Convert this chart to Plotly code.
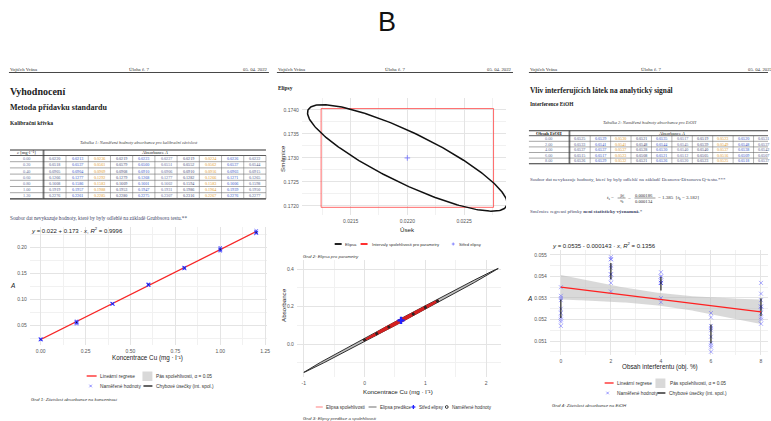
import numpy as np
import plotly.graph_objects as go

W, H = 771, 421
SERIF = "Liberation Serif, DejaVu Serif, serif"
SANS = "Liberation Sans, Arial, sans-serif"

# ---------------- data ----------------
# calibration: Cu concentration (mg/l) and ten absorbance readings per level
conc_cu = [0.00, 0.20, 0.40, 0.60, 0.80, 1.00, 1.20]
abs_cal = [
    [0.0220, 0.0213, 0.0236, 0.0219, 0.0223, 0.0227, 0.0219, 0.0224, 0.0226, 0.0222],
    [0.0518, 0.0537, 0.0561, 0.0579, 0.0560, 0.0551, 0.0552, 0.0562, 0.0537, 0.0544],
    [0.0905, 0.0904, 0.0909, 0.0908, 0.0910, 0.0906, 0.0910, 0.0916, 0.0903, 0.0915],
    [0.1266, 0.1277, 0.1292, 0.1279, 0.1268, 0.1277, 0.1282, 0.1266, 0.1271, 0.1265],
    [0.1608, 0.1586, 0.1583, 0.1609, 0.1601, 0.1602, 0.1594, 0.1583, 0.1606, 0.1598],
    [0.1919, 0.1957, 0.1988, 0.1953, 0.1947, 0.1931, 0.1986, 0.1964, 0.1939, 0.1950],
    [0.2276, 0.2261, 0.2285, 0.2280, 0.2275, 0.2307, 0.2316, 0.2267, 0.2276, 0.2277],
]
cal_intercept, cal_slope, cal_r2 = 0.022, 0.173, 0.9996
cal_band_mid, cal_band_end = 0.0007, 0.0013

cal_xticks = [0.00, 0.25, 0.50, 0.75, 1.00, 1.25]
cal_xlabels = ["0.00", "0.25", "0.50", "0.75", "1.00", "1.25"]
cal_yticks = [0.05, 0.10, 0.15, 0.20]
cal_ylabels = ["0.05", "0.10", "0.15", "0.20"]

# joint confidence region of the regression parameters
par_intercept, par_slope = 0.0220, 0.1730
par_intercept_ci = [0.02124, 0.02276]
par_slope_ci = [0.17197, 0.17403]
ell_half_intercept, ell_half_slope, ell_rho = 0.00088, 0.00111, -0.85

par_xticks = [0.0215, 0.0220, 0.0225]
par_xlabels = ["0.0215", "0.0220", "0.0225"]
par_yticks = [0.1720, 0.1725, 0.1730, 0.1735, 0.1740]
par_ylabels = ["0.1720", "0.1725", "0.1730", "0.1735", "0.1740"]

# prediction / confidence ellipses in the concentration-absorbance plane
pred_half_x, pred_half_y = 1.6, 0.010
conf_half_x, conf_half_y = 0.62, 0.008
pe_xticks = [-1, 0, 1, 2]
pe_xlabels = ["-1", "0", "1", "2"]
pe_yticks = [0.0, 0.2, 0.4]
pe_ylabels = ["0.0", "0.2", "0.4"]

# EtOH interference: content (vol. %) and ten absorbance readings per level
etoh_pct = [0, 2, 4, 6, 8]
abs_etoh = [
    [0.0525, 0.0529, 0.0530, 0.0521, 0.0535, 0.0517, 0.0519, 0.0523, 0.0520, 0.0531],
    [0.0533, 0.0541, 0.0541, 0.0548, 0.0544, 0.0545, 0.0539, 0.0549, 0.0548, 0.0537],
    [0.0537, 0.0537, 0.0537, 0.0528, 0.0530, 0.0540, 0.0540, 0.0537, 0.0538, 0.0542],
    [0.0515, 0.0517, 0.0523, 0.0508, 0.0521, 0.0512, 0.0505, 0.0516, 0.0509, 0.0507],
    [0.0526, 0.0529, 0.0532, 0.0521, 0.0526, 0.0520, 0.0523, 0.0525, 0.0518, 0.0537],
]
etoh_intercept, etoh_slope, etoh_r2 = 0.0535, -0.000143, 0.1356
etoh_band_mid, etoh_band_end = 0.00030, 0.00057
et_xticks = [0, 2, 4, 6, 8]
et_xlabels = ["0", "2", "4", "6", "8"]
et_yticks = [0.051, 0.052, 0.053, 0.054, 0.055]
et_ylabels = ["0.051", "0.052", "0.053", "0.054", "0.055"]

T_CRIT = 2.262  # Student t(0.975, 9)

# ---------------- helpers ----------------
fig = go.Figure()
ann, shapes = [], []
layout_axes = {}

CELL_COLORS = ["#4a5a8c", "#2f55c8", "#e0982a", "#3d4a78", "#2f55c8",
               "#5b6a9a", "#3d4a78", "#e0982a", "#2f55c8", "#4a5a8c"]


def fx(x):
    return x / W


def fy(y):
    return 1 - y / H


def txt(x, y, s, size=5, color="#222", family=SERIF, xa="left", ya="middle", angle=0):
    ann.append(dict(x=fx(x), y=fy(y), xref="paper", yref="paper", text=s,
                    showarrow=False, font=dict(size=size, color=color, family=family),
                    xanchor=xa, yanchor=ya, textangle=angle, borderpad=0))


def seg(x0, y0, x1, y1, w=0.8, color="#333"):
    shapes.append(dict(type="line", xref="paper", yref="paper",
                       x0=fx(x0), y0=fy(y0), x1=fx(x1), y1=fy(y1),
                       line=dict(width=w, color=color)))


def box(x0, y0, x1, y1, fill):
    shapes.append(dict(type="rect", xref="paper", yref="paper",
                       x0=fx(x0), y0=fy(y1), x1=fx(x1), y1=fy(y0),
                       line=dict(width=0), fillcolor=fill))


def cross_x(cx, cy, r, color, w=0.8):
    seg(cx - r, cy - r, cx + r, cy + r, w, color)
    seg(cx - r, cy + r, cx + r, cy - r, w, color)


def cross_plus(cx, cy, r, color, w=0.8):
    seg(cx - r, cy, cx + r, cy, w, color)
    seg(cx, cy - r, cx, cy + r, w, color)


def circ(cx, cy, r, color, w=0.8):
    shapes.append(dict(type="circle", xref="paper", yref="paper",
                       x0=fx(cx - r), x1=fx(cx + r), y0=fy(cy + r), y1=fy(cy - r),
                       line=dict(width=w, color=color)))


def axes(i, xpx, ypx, xr, yr, xt, xl, yt, yl, xminor, yminor):
    xn = "xaxis" if i == 1 else f"xaxis{i}"
    yn = "yaxis" if i == 1 else f"yaxis{i}"
    common = dict(showgrid=True, gridcolor="#e4e4e4", gridwidth=0.7, zeroline=False,
                  showline=False, ticks="", fixedrange=True, ticklabelstandoff=2,
                  tickfont=dict(size=5, color="#555", family=SANS))
    layout_axes[xn] = dict(domain=[fx(xpx[0]), min(fx(xpx[1]), 1.0)], range=xr,
                           anchor="y" if i == 1 else f"y{i}", tickvals=xt, ticktext=xl,
                           minor=dict(tickvals=xminor, showgrid=True,
                                      gridcolor="#f1f1f1", gridwidth=0.5), **common)
    layout_axes[yn] = dict(domain=[fy(ypx[1]), fy(ypx[0])], range=yr,
                           anchor="x" if i == 1 else f"x{i}", tickvals=yt, ticktext=yl,
                           minor=dict(tickvals=yminor, showgrid=True,
                                      gridcolor="#f1f1f1", gridwidth=0.5), **common)


def ref(i):
    return ("x", "y") if i == 1 else (f"x{i}", f"y{i}")


def band(xs, xc, half, mid, end):
    return np.sqrt(mid ** 2 + (end ** 2 - mid ** 2) * ((xs - xc) / half) ** 2)


def table(x0, c0w, cw, y_top, hh, rh, labels, values, head0, head1, clip):
    nr = len(values)
    nc = len(values[0])
    yhb = y_top + hh
    yb = yhb + nr * rh
    xe = min(x0 + c0w + nc * cw, clip)
    seg(x0, y_top, xe, y_top, 1.1, "#333")
    seg(x0, yhb, xe, yhb, 0.8, "#333")
    seg(x0, yb, xe, yb, 1.1, "#333")
    for r in range(1, nr):
        seg(x0, yhb + r * rh, xe, yhb + r * rh, 0.6, "#6a6a6a")
    seg(x0 + c0w, y_top, x0 + c0w, yb, 0.9, "#333")
    seg(x0 + c0w - 1, y_top, x0 + c0w - 1, yb, 0.5, "#555")
    for c in range(1, nc + 1):
        xv = x0 + c0w + c * cw
        if xv <= clip:
            seg(xv, yhb, xv, yb, 0.5, "#666")
    txt(x0 + c0w / 2, y_top + hh / 2, head0, 4.6, "#222", xa="center")
    txt(x0 + c0w + nc * cw / 2, y_top + hh / 2, head1, 4.6, "#222", xa="center")
    for r in range(nr):
        yc = yhb + (r + 0.5) * rh
        txt(x0 + c0w / 2, yc, labels[r], 4.3, "#6b79a6", xa="center")
        for c in range(nc):
            txt(x0 + c0w + (c + 0.5) * cw, yc, f"{values[r][c]:.4f}", 4.1,
                CELL_COLORS[c % len(CELL_COLORS)], xa="center")


# ---------------- page headers ----------------
txt(389, 22, "B", 27, "#111", "Liberation Sans Narrow, Liberation Sans, sans-serif", xa="center")
for left, mid, right_x, right_anchor, line_end in [(9, 140, 270, "right", 270),
                                                   (278, 397, 515, "right", 515),
                                                   (531, 654, 750, "left", 771)]:
    txt(left, 69.5, "Vojtěch Vrána", 4.8, "#333")
    txt(mid, 69.5, "Úloha č. 7", 4.8, "#333", xa="center")
    txt(right_x, 69.5, "05. 04. 2022", 4.8, "#333", xa=right_anchor)
    seg(left, 72.5, line_end, 72.5, 0.9, "#333")

# ---------------- page 1 ----------------
txt(9, 91, "<b>Vyhodnocení</b>", 10, "#222")
txt(9, 108, "<b>Metoda přídavku standardu</b>", 8, "#222")
txt(9, 123, "<b>Kalibrační křivka</b>", 5.6, "#222")
txt(140, 142, "<i>Tabulka 1: Naměřené hodnoty absorbance pro kalibrační závislost</i>", 4.4, "#444", xa="center")
table(10, 34, 22.3, 150, 5.5, 6.2, [f"{c:.2f}" for c in conc_cu], abs_cal,
      "<i>c</i> [mg·l⁻¹]", "Absorbance <i>A</i>", 270)
txt(9, 218, "Soubor dat nevykazuje hodnoty, které by byly odlehlé na základě Grubbsova testu.**", 5.2, "#3d4466")

# chart 1: calibration line
axes(1, (30, 268), (227, 345), [-0.06, 1.26], [0.01154, 0.23846],
     cal_xticks, cal_xlabels, cal_yticks, cal_ylabels,
     [-0.125 + 0.25 * k for k in range(7)], [0.025 + 0.05 * k for k in range(5)])
xr, yr = ref(1)
xs = np.linspace(min(conc_cu), max(conc_cu), 100)
ys = cal_intercept + cal_slope * xs
hw = band(xs, np.mean(conc_cu), (max(conc_cu) - min(conc_cu)) / 2, cal_band_mid, cal_band_end)
fig.add_trace(go.Scatter(x=np.r_[xs, xs[::-1]], y=np.r_[ys + hw, (ys - hw)[::-1]], fill="toself",
                         fillcolor="rgba(160,160,160,0.45)", line=dict(width=0), mode="lines",
                         xaxis=xr, yaxis=yr, hoverinfo="skip"))
fig.add_trace(go.Scatter(x=xs, y=ys, mode="lines", line=dict(color="#ff2020", width=1.2),
                         xaxis=xr, yaxis=yr))
cal_means = [np.mean(v) for v in abs_cal]
cal_err = [T_CRIT * np.std(v, ddof=1) / np.sqrt(len(v)) for v in abs_cal]
fig.add_trace(go.Scatter(x=np.repeat(conc_cu, len(abs_cal[0])), y=np.ravel(abs_cal), mode="markers",
                         marker=dict(symbol="x-thin", size=3, color="rgba(60,60,255,0.6)",
                                     line=dict(width=1, color="rgba(60,60,255,0.6)")),
                         xaxis=xr, yaxis=yr))
fig.add_trace(go.Scatter(x=conc_cu, y=cal_means, mode="markers", marker=dict(size=1, opacity=0),
                         error_y=dict(type="data", array=cal_err, color="#111", thickness=1, width=0),
                         xaxis=xr, yaxis=yr))
txt(30, 230, f"<i>y</i> = {cal_intercept:.3f} + {cal_slope:.3f} · <i>x</i>, <i>R</i><sup>2</sup> = {cal_r2:.4f}", 6, "#222", SANS)
txt(13, 285, "<i>A</i>", 6.5, "#222", SANS, xa="center")
txt(148, 358, "Koncentrace Cu (mg · l⁻¹)", 6.3, "#222", SANS, xa="center")
seg(87, 376, 97, 376, 1.3, "#ff2020")
txt(99, 376, "Lineární regrese", 4.8, "#333", SANS)
box(143, 371.5, 153, 381, "#d9d9d9")
txt(156, 376, "Pás spolehlivosti, α = 0.05", 4.8, "#333", SANS)
cross_x(91, 386, 1.3, "rgba(60,60,255,0.7)")
txt(99, 386, "Naměřené hodnoty", 4.8, "#333", SANS)
seg(144, 386, 153, 386, 1.3, "#111")
txt(156, 386, "Chybové úsečky (int. spol.)", 4.8, "#333", SANS)
txt(30, 399, "<i>Graf 1: Závislost absorbance na koncentraci</i>", 4.4, "#333", SANS)

# ---------------- page 2 ----------------
txt(278, 88, "<b>Elipsy</b>", 5.4, "#222")
axes(2, (303, 508), (98, 215), [0.02107, 0.02287], [0.17181, 0.17425],
     par_xticks, par_xlabels, par_yticks, par_ylabels,
     [0.02125, 0.02175, 0.02225, 0.02275], [0.17175, 0.17225, 0.17275, 0.17325, 0.17375, 0.17425])
xr, yr = ref(2)
t = np.linspace(0, 2 * np.pi, 240)
ex = par_intercept + ell_half_intercept * np.cos(t)
ey = par_slope + ell_half_slope * (ell_rho * np.cos(t) + np.sqrt(1 - ell_rho ** 2) * np.sin(t))
rx = [par_intercept_ci[0], par_intercept_ci[1], par_intercept_ci[1], par_intercept_ci[0], par_intercept_ci[0]]
ry = [par_slope_ci[0], par_slope_ci[0], par_slope_ci[1], par_slope_ci[1], par_slope_ci[0]]
fig.add_trace(go.Scatter(x=rx, y=ry, mode="lines", line=dict(color="rgba(255,70,70,0.8)", width=1),
                         xaxis=xr, yaxis=yr))
fig.add_trace(go.Scatter(x=ex, y=ey, mode="lines", line=dict(color="#111", width=1.5),
                         xaxis=xr, yaxis=yr))
fig.add_trace(go.Scatter(x=[par_intercept], y=[par_slope], mode="markers",
                         marker=dict(symbol="cross-thin", size=4, color="#7070ff",
                                     line=dict(width=0.8, color="#7070ff")),
                         xaxis=xr, yaxis=yr))
txt(284, 158, "Směrnice", 6.2, "#222", SANS, xa="center", angle=-90)
txt(409, 229, "Úsek", 6.2, "#222", SANS, xa="center")
seg(336, 244, 343, 244, 2, "#222")
txt(345, 244, "Elipsa", 4.2, "#333", SANS)
seg(362, 244, 369, 244, 2, "#ff3030")
txt(372, 244, "Intervaly spolehlivosti pro parametry", 4.2, "#333", SANS)
cross_plus(455, 244, 1.5, "#7070ff")
txt(460, 244, "Střed elipsy", 4.2, "#333", SANS)
txt(303, 256, "<i>Graf 2: Elipsa pro parametry</i>", 4.4, "#333", SANS)

# chart 3: prediction and confidence ellipses
axes(3, (298, 503), (260, 377), [-1.115, 2.246], [-0.176, 0.448],
     pe_xticks, pe_xlabels, pe_yticks, pe_ylabels,
     [-0.5, 0.5, 1.5], [-0.1, 0.1, 0.3])
xr, yr = ref(3)
cx = float(np.mean(conc_cu))
cy = cal_intercept + cal_slope * cx
px_ = cx + pred_half_x * np.cos(t)
py_ = cy + cal_slope * pred_half_x * np.cos(t) + pred_half_y * np.sin(t)
fig.add_trace(go.Scatter(x=px_, y=py_, mode="lines", fill="toself", fillcolor="rgba(150,150,150,0.6)",
                         line=dict(color="#1a1a1a", width=0.9), xaxis=xr, yaxis=yr))
qx = cx + conf_half_x * np.cos(t)
qy = cy + cal_slope * conf_half_x * np.cos(t) + conf_half_y * np.sin(t)
fig.add_trace(go.Scatter(x=qx, y=qy, mode="lines", fill="toself", fillcolor="#d42020",
                         line=dict(color="#d42020", width=1.4), xaxis=xr, yaxis=yr))
fig.add_trace(go.Scatter(x=np.repeat(conc_cu, len(abs_cal[0])), y=np.ravel(abs_cal), mode="markers",
                         marker=dict(symbol="circle-open", size=1.8, color="rgba(40,40,40,0.7)",
                                     line=dict(width=0.4, color="rgba(40,40,40,0.7)")),
                         xaxis=xr, yaxis=yr))
fig.add_trace(go.Scatter(x=[cx], y=[cy], mode="markers",
                         marker=dict(symbol="cross", size=6, color="#2020ff"), xaxis=xr, yaxis=yr))
txt(284, 305, "Absorbance", 6.2, "#222", SANS, xa="center", angle=-90)
txt(400, 391, "Koncentrace Cu (mg · l⁻¹)", 6.2, "#222", SANS, xa="center")
seg(317, 407, 324, 407, 1.6, "#ffb0b0")
txt(326, 407, "Elipsa spolehlivosti", 4.6, "#333", SANS)
seg(370, 407, 378, 407, 1.2, "#888")
txt(380, 407, "Elipsa predikce", 4.6, "#333", SANS)
cross_plus(415, 407, 2, "#2020ff", 1.3)
txt(420, 407, "Střed elipsy", 4.6, "#333", SANS)
circ(448.5, 407, 1.4, "#111")
txt(453, 407, "Naměřené hodnoty", 4.6, "#333", SANS)
txt(303, 418.5, "<i>Graf 3: Elipsy predikce a spolehlivosti</i>", 4.4, "#333", SANS)

# ---------------- page 3 ----------------
txt(531, 90, "<b>Vliv interferujících látek na analytický signál</b>", 7.4, "#222")
txt(531, 104, "<b>Interference EtOH</b>", 5.4, "#222")
txt(653, 122, "<i>Tabulka 2: Naměřené hodnoty absorbance pro EtOH</i>", 4.4, "#444", xa="center")
table(531, 41, 20.5, 130.7, 5.0, 5.6, [f"{p:.2f}" for p in etoh_pct], abs_etoh,
      "<b>Obsah EtOH</b>", "Absorbance <i>A</i>", 771)
txt(531, 180, "Soubor dat nevykazuje hodnoty, které by byly odlehlé na základě Deanova-Dixonova Q-testu.***", 5.0, "#3d4466")
txt(617, 198, "<i>t</i><sub>s</sub> =", 5.0, "#333", xa="right")
txt(624, 195, "|<i>b</i>|", 4.6, "#333", xa="center")
txt(624, 201.5, "<i>s</i><sub>b</sub>", 4.6, "#333", xa="center")
seg(620, 198, 628, 198, 0.5, "#333")
txt(632, 198, "=", 5.0, "#333", xa="center")
txt(647, 195, "0.000186", 4.6, "#333", xa="center")
txt(647, 201.5, "0.000134", 4.6, "#333", xa="center")
seg(637, 198, 658, 198, 0.5, "#333")
txt(660, 198, "= 1.385  [<i>t</i><sub>k</sub> = 3.182]", 5.0, "#333")
txt(531, 211, "Směrnice regresní přímky <b>není statisticky významná</b>.*", 5.0, "#3d4466")

# chart 4: EtOH interference
axes(4, (552, 771), (250, 355), [-0.44, 8.28], [0.05035, 0.05523],
     et_xticks, et_xlabels, et_yticks, et_ylabels,
     [1, 3, 5, 7], [0.0505, 0.0515, 0.0525, 0.0535, 0.0545, 0.0555])
xr, yr = ref(4)
xs = np.linspace(min(etoh_pct), max(etoh_pct), 100)
ys = etoh_intercept + etoh_slope * xs
hw = band(xs, np.mean(etoh_pct), (max(etoh_pct) - min(etoh_pct)) / 2, etoh_band_mid, etoh_band_end)
fig.add_trace(go.Scatter(x=np.r_[xs, xs[::-1]], y=np.r_[ys + hw, (ys - hw)[::-1]], fill="toself",
                         fillcolor="rgba(185,185,185,0.55)", line=dict(width=0), mode="lines",
                         xaxis=xr, yaxis=yr, hoverinfo="skip"))
fig.add_trace(go.Scatter(x=np.repeat(etoh_pct, len(abs_etoh[0])), y=np.ravel(abs_etoh), mode="markers",
                         marker=dict(symbol="x-thin", size=4, color="rgba(90,90,255,0.55)",
                                     line=dict(width=0.9, color="rgba(90,90,255,0.55)")),
                         xaxis=xr, yaxis=yr))
et_means = [np.mean(v) for v in abs_etoh]
et_err = [T_CRIT * np.std(v, ddof=1) / np.sqrt(len(v)) for v in abs_etoh]
fig.add_trace(go.Scatter(x=etoh_pct, y=et_means, mode="markers", marker=dict(size=1, opacity=0),
                         error_y=dict(type="data", array=et_err, color="#111", thickness=1.1, width=0),
                         xaxis=xr, yaxis=yr))
fig.add_trace(go.Scatter(x=xs, y=ys, mode="lines", line=dict(color="#ff2020", width=1.2),
                         xaxis=xr, yaxis=yr))
txt(553, 245, f"<i>y</i> = {etoh_intercept:.4f} - {abs(etoh_slope):.6f} · <i>x</i>, <i>R</i><sup>2</sup> = {etoh_r2:.4f}", 6, "#222", SANS)
txt(532, 298, "<i>A</i>", 6.5, "#222", SANS, xa="center")
txt(663, 367, "Obsah interferentu (obj. %)", 6.3, "#222", SANS, xa="center")
seg(607, 383, 616, 383, 1.3, "#ff2020")
txt(618, 383, "Lineární regrese", 4.8, "#333", SANS)
box(658, 378.5, 668, 388, "#d9d9d9")
txt(672, 383, "Pás spolehlivosti, α = 0.05", 4.8, "#333", SANS)
cross_x(610, 393, 1.3, "rgba(80,80,255,0.7)")
txt(618, 393, "Naměřené hodnoty", 4.8, "#333", SANS)
seg(660, 393, 668, 393, 1.3, "#111")
txt(671, 393, "Chybové úsečky (int. spol.)", 4.8, "#333", SANS)
txt(553, 405, "<i>Graf 4: Závislost absorbance na EtOH</i>", 4.4, "#333", SANS)

fig.update_traces(showlegend=False)
fig.update_layout(width=W, height=H, margin=dict(l=0, r=0, t=0, b=0),
                  paper_bgcolor="white", plot_bgcolor="white", showlegend=False,
                  annotations=ann, shapes=shapes, **layout_axes)
fig.write_html("out.html")
